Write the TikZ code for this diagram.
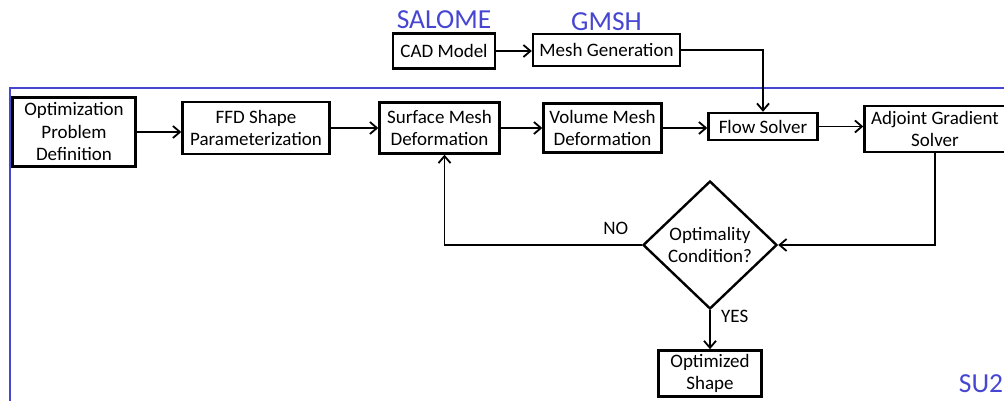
\documentclass[tikz,border=0pt]{standalone}
\usepackage{fontspec}
\setmainfont{Carlito}
\usetikzlibrary{positioning, arrows.meta, shapes.geometric}
\definecolor{toolblue}{RGB}{70,70,210}

\begin{document}
\begin{tikzpicture}[
    x=1pt, y=1pt,
    every node/.style={font=\fontsize{19}{22.5}\selectfont},
    box/.style={draw, line width=2.4pt, align=center, inner sep=1pt},
    decision/.style={diamond, draw, line width=2.4pt, align=center, inner sep=0pt, minimum width=134pt, minimum height=128pt},
    arrowstyle/.style={-{Straight Barb[length=7pt, width=12pt, line width=1.8pt]}, line width=1.8pt},
    toollabel/.style={text=toolblue, font=\fontsize{27.5}{30}\selectfont},
    frame/.style={draw=toolblue, line width=1.5pt}
]
\useasboundingbox (0,0) rectangle (1004,401);

% SU2 frame
\draw[frame] (1020,313) -| (10,-20);

% Pre-processing
\node[box, minimum width=102pt, minimum height=35pt] (cad) at (444,350) {CAD Model};
\node[box, minimum width=147pt, minimum height=32pt, right=35.6pt of cad, yshift=1pt] (mesh) {Mesh Generation};
\node[toollabel, above=0pt of cad] (salome) {SALOME};
\node[toollabel, above=-1pt of mesh] (gmsh) {GMSH};

% Optimization loop
\node[box, minimum width=123pt, minimum height=69pt] (opt) at (74,269) {Optimization\\Problem\\Definition};
\node[box, minimum width=147pt, minimum height=52pt, right=44.6pt of opt, yshift=4pt] (ffd) {FFD Shape\\Parameterization};
\node[box, minimum width=120pt, minimum height=51pt, right=47.6pt of ffd] (surf) {Surface Mesh\\Deformation};
\node[box, minimum width=118pt, minimum height=49pt, right=41.6pt of surf] (vol) {Volume Mesh\\Deformation};
\node[box, minimum width=109pt, minimum height=27pt, right=44.6pt of vol, yshift=1.5pt] (flow) {Flow Solver};
\node[box, minimum width=141pt, minimum height=46pt, right=44.6pt of flow, yshift=-2.5pt] (adj) {Adjoint Gradient\\Solver};
\node[decision] (cond) at (710,156) {Optimality\\Condition?};
\node[box, minimum width=103pt, minimum height=46pt, below=39pt of cond] (opts) {Optimized\\Shape};
\node[toollabel] (su2) at (981,17) {SU2};

% Arrows
\draw[arrowstyle] (cad) -- (cad -| mesh.west);
\draw[arrowstyle] (mesh.east) -| (flow.north);
\draw[arrowstyle] (opt.east) -- (opt.east -| ffd.west);
\draw[arrowstyle] (ffd) -- (surf);
\draw[arrowstyle] (surf) -- (vol);
\draw[arrowstyle] (vol.east) -- (vol.east -| flow.west);
\draw[arrowstyle] (flow.east) -- (flow.east -| adj.west);
\draw[arrowstyle] (adj.south) |- (cond.east);
\draw[arrowstyle] (cond.west) -| ([xshift=5pt]surf.south) node[pos=0.066, above=6pt] {NO};
\draw[arrowstyle] (cond.south) -- (opts.north) node[pos=0.15, right=7pt] {YES};

\end{tikzpicture}
\end{document}
